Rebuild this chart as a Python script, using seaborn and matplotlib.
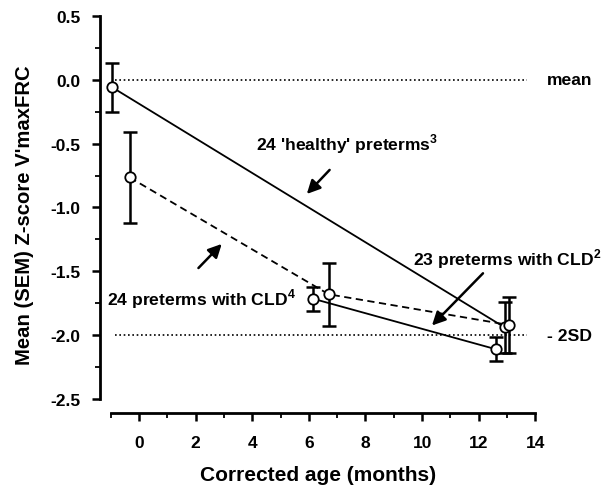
import numpy as np
import pandas as pd
import matplotlib
matplotlib.use("Agg")
import matplotlib.pyplot as plt
import seaborn as sns

# values (corrected age in months, mean z-score, SEM)
healthy_age = [-0.94, 12.92]
healthy_z = [-0.06, -1.94]
healthy_sem = [0.19, 0.20]

cld4_age = [-0.33, 6.70, 13.06]
cld4_z = [-0.765, -1.68, -1.92]
cld4_sem = [0.36, 0.245, 0.22]

cld2_age = [6.15, 12.60]
cld2_z = [-1.715, -2.11]
cld2_sem = [0.095, 0.095]

x_ticks = [0, 2, 4, 6, 8, 10, 12, 14]
y_ticks = [0.5, 0.0, -0.5, -1.0, -1.5, -2.0, -2.5]

df = pd.concat([
    pd.DataFrame({'age': healthy_age, 'z': healthy_z, 'sem': healthy_sem, 'group': 'healthy'}),
    pd.DataFrame({'age': cld4_age, 'z': cld4_z, 'sem': cld4_sem, 'group': 'cld4'}),
    pd.DataFrame({'age': cld2_age, 'z': cld2_z, 'sem': cld2_sem, 'group': 'cld2'}),
])

sns.set_style('ticks')
plt.rcParams['font.family'] = ['Liberation Sans', 'DejaVu Sans']
plt.rcParams['font.weight'] = 'bold'
plt.rcParams['mathtext.fontset'] = 'custom'
plt.rcParams['mathtext.rm'] = 'Liberation Sans:bold'
plt.rcParams['mathtext.bf'] = 'Liberation Sans:bold'
for k in ['text.color', 'axes.labelcolor', 'xtick.color', 'ytick.color', 'axes.edgecolor']:
    plt.rcParams[k] = 'black'

fig = plt.figure(figsize=(6.02, 4.89), dpi=100)
ax = fig.add_axes([100/602, 75/489, 435.3/602, 397/489])

styles = {'healthy': '-', 'cld4': (0, (4, 2.5)), 'cld2': '-'}
for g, sub in df.groupby('group', sort=False):
    ax.errorbar(sub['age'], sub['z'], yerr=sub['sem'], fmt='none', ecolor='black',
                elinewidth=1.8, capsize=5, capthick=1.8, zorder=2)
    sns.lineplot(data=sub, x='age', y='z', ax=ax, color='black', lw=1.3,
                 linestyle=styles[g], marker='o', markersize=7.5,
                 markerfacecolor='white', markeredgecolor='black',
                 markeredgewidth=1.3, zorder=3)

# reference lines: mean and -2SD
ax.hlines([0.0, -2.0], -0.85, 13.7, colors='black', lw=1.2,
          linestyles=[(0, (1, 1.6))], zorder=1)

ax.set_xlim(-1.38, 14.0)
ax.set_ylim(-2.61, 0.5)
ax.set_xticks(x_ticks)
ax.set_xticks(np.arange(-1, 14.5, 1), minor=True)
ax.set_yticks(y_ticks)
ax.set_yticks(np.arange(-2.5, 0.51, 0.25), minor=True)
ax.set_yticklabels([f'{v:.1f}' for v in y_ticks])
ax.tick_params(axis='both', which='major', length=6, width=1.8, labelsize=12.5, direction='out')
ax.tick_params(axis='both', which='minor', length=3.5, width=1.3, direction='out')
ax.tick_params(axis='x', pad=10)
ax.tick_params(axis='y', pad=8)

sns.despine(ax=ax)
ax.spines['left'].set_bounds(-2.5, 0.5)
ax.spines['bottom'].set_bounds(-1, 14)
ax.spines['left'].set_linewidth(2)
ax.spines['bottom'].set_linewidth(2)

ax.set_xlabel('Corrected age (months)', fontsize=15, fontweight='bold', labelpad=11)
ax.set_ylabel("Mean (SEM) Z-score V'maxFRC", fontsize=14.6, fontweight='bold', labelpad=12)

txt = dict(fontsize=12.6, fontweight='bold', va='center', ha='left')
ax.text(14.40, 0.0, 'mean', clip_on=False, **txt)
ax.text(14.40, -2.0, '- 2SD', clip_on=False, **txt)
ax.text(4.13, -0.50, r"24 'healthy' preterms$^{3}$", clip_on=False, **txt)
ax.text(-1.13, -1.71, r"24 preterms with CLD$^{4}$", clip_on=False, **txt)
ax.text(9.69, -1.40, r"23 preterms with CLD$^{2}$", clip_on=False, **txt)

arrow = dict(arrowstyle='-|>,head_length=0.8,head_width=0.4', color='black', lw=1.8)
ax.annotate('', xy=(5.86, -0.91), xytext=(6.80, -0.69), arrowprops=arrow)
ax.annotate('', xy=(2.99, -1.27), xytext=(2.03, -1.49), arrowprops=arrow)
ax.annotate('', xy=(10.28, -1.94), xytext=(12.22, -1.50), arrowprops=arrow)

fig.savefig('out.png', dpi=100)
